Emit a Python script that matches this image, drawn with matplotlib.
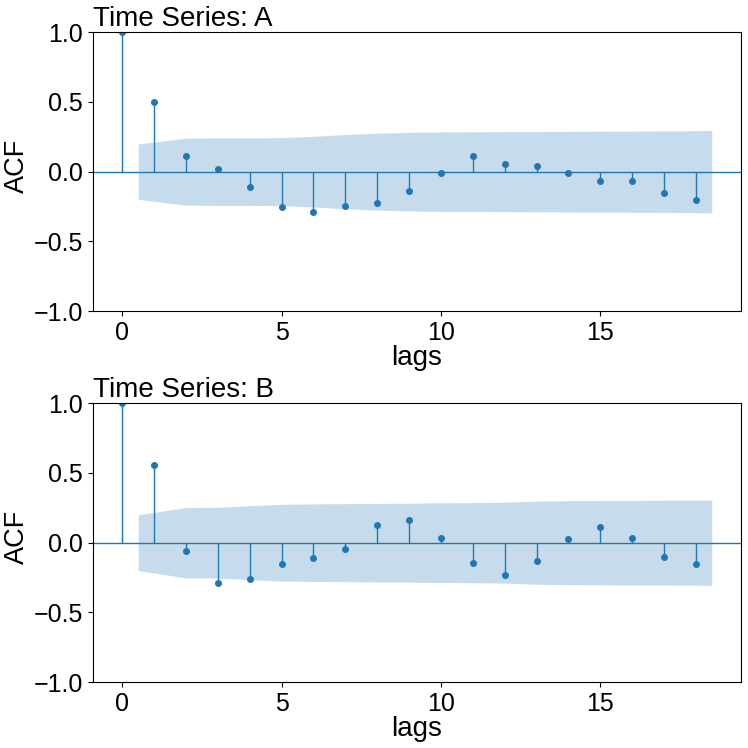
import matplotlib
matplotlib.use("Agg")
import matplotlib.pyplot as plt
import numpy as np

plt.rcParams['font.family'] = ['Liberation Sans', 'DejaVu Sans']

lags = list(range(19))

# autocorrelations
acf_a = [1.0, 0.496, 0.115, 0.022, -0.110, -0.252, -0.290, -0.249, -0.223, -0.141,
         -0.012, 0.113, 0.058, 0.043, -0.010, -0.070, -0.070, -0.156, -0.204]
acf_b = [1.0, 0.557, -0.057, -0.287, -0.261, -0.151, -0.110, -0.043, 0.124, 0.163,
         0.033, -0.144, -0.230, -0.134, 0.024, 0.110, 0.033, -0.105, -0.151]

# half-width of the confidence band for lags 1..18
band_a = [0.198, 0.240, 0.242, 0.242, 0.244, 0.253, 0.266, 0.275, 0.282, 0.285,
          0.285, 0.287, 0.288, 0.289, 0.290, 0.291, 0.292, 0.295]
band_b = [0.200, 0.252, 0.254, 0.265, 0.275, 0.278, 0.280, 0.281, 0.283, 0.286,
          0.287, 0.290, 0.298, 0.301, 0.302, 0.303, 0.304, 0.306]

series = [("A", acf_a, band_a), ("B", acf_b, band_b)]

fig = plt.figure(figsize=(7.48, 7.48), dpi=100)
boxes = [[0.124, 0.584, 0.867, 0.373], [0.124, 0.088, 0.867, 0.373]]

for (name, acf, band), box in zip(series, boxes):
    ax = fig.add_axes(box)
    ax.vlines(lags, 0, acf, color='C0', linewidth=1.0)
    ax.plot(lags, acf, 'o', color='C0', markersize=4)
    ax.axhline(0, color='C0', linewidth=1.0)
    bx = np.array(lags[1:], dtype=float)
    bx[0] -= 0.5
    bx[-1] += 0.5
    band = np.array(band)
    ax.fill_between(bx, -band, band, color='C0', alpha=0.25, linewidth=0)
    ax.set_ylim(-1, 1)
    ax.set_yticks([-1.0, -0.5, 0.0, 0.5, 1.0])
    ax.set_xticks([0, 5, 10, 15])
    ax.tick_params(labelsize=18)
    ax.set_xlabel('lags', fontsize=20, labelpad=0)
    ax.set_ylabel('ACF', fontsize=19.5)
    ax.yaxis.set_label_coords(-0.097, 0.52)
    ax.set_title('Time Series: ' + name, loc='left', fontsize=20, pad=1)

fig.savefig('out.png', dpi=100)
